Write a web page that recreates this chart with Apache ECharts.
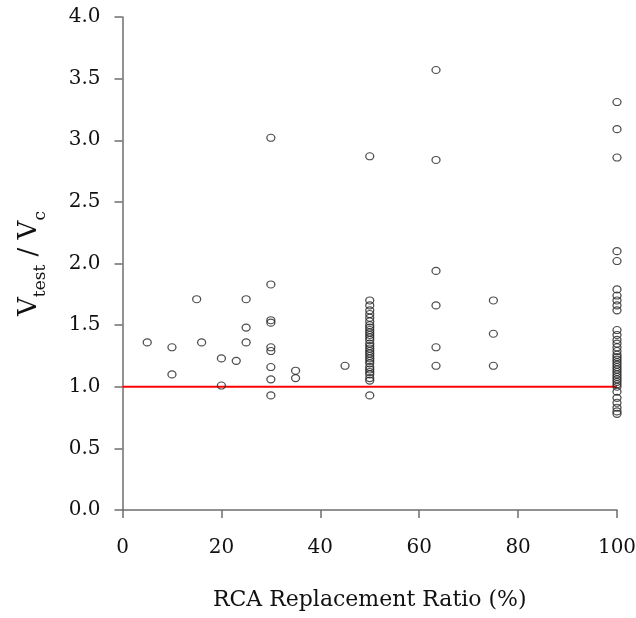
<!DOCTYPE html>
<html>
<head>
<meta charset="utf-8">
<script src="https://cdn.jsdelivr.net/npm/echarts@6/dist/echarts.min.js"></script>
<style>html,body{margin:0;padding:0;background:#fff}#c{width:636px;height:618px}</style>
</head>
<body>
<div id="c"></div>
<script>
// RCA replacement ratio (%) and Vtest/Vc values
const xTicks = [0, 20, 40, 60, 80, 100];
const yTicks = [0.0, 0.5, 1.0, 1.5, 2.0, 2.5, 3.0, 3.5, 4.0];

const ratio5  = [1.36];
const ratio10 = [1.32, 1.10];
const ratio15 = [1.71];
const ratio16 = [1.36];
const ratio20 = [1.23, 1.01];
const ratio23 = [1.21];
const ratio25 = [1.71, 1.48, 1.36];
const ratio30 = [3.02, 1.83, 1.54, 1.52, 1.32, 1.29, 1.16, 1.06, 0.93];
const ratio35 = [1.13, 1.07];
const ratio45 = [1.17];
const ratio50 = [2.87, 1.70, 1.66, 1.62, 1.59, 1.56, 1.53, 1.50, 1.48, 1.46, 1.44, 1.42, 1.40, 1.38,
                 1.35, 1.33, 1.31, 1.29, 1.27, 1.25, 1.23, 1.21, 1.19, 1.16, 1.14, 1.12, 1.10, 1.07, 1.05, 0.93];
const ratio63 = [3.57, 2.84, 1.94, 1.66, 1.32, 1.17];
const ratio75 = [1.70, 1.43, 1.17];
const ratio100 = [3.31, 3.09, 2.86, 2.10, 2.02, 1.79, 1.74, 1.70, 1.66, 1.62,
                  1.46, 1.42, 1.38, 1.35, 1.32, 1.29, 1.26, 1.24, 1.22, 1.20, 1.18, 1.16, 1.14, 1.12,
                  1.10, 1.08, 1.06, 1.04, 1.02, 1.00, 0.96, 0.91, 0.87, 0.83, 0.80, 0.78];

const groups = [
  [5, ratio5], [10, ratio10], [15, ratio15], [16, ratio16], [20, ratio20], [23, ratio23],
  [25, ratio25], [30, ratio30], [35, ratio35], [45, ratio45], [50, ratio50], [63.4, ratio63],
  [75, ratio75], [100, ratio100]
];
const refLine = [[0, 1.0], [100, 1.0]];

const points = [];
groups.forEach(([x, ys]) => ys.forEach(y => points.push([x, y])));

const font = "'DejaVu Serif', 'Liberation Serif', serif";
const axisColor = '#6e6e6e';

const chart = echarts.init(document.getElementById('c'), null, {renderer: 'canvas'});
chart.setOption({
  animation: false,
  backgroundColor: '#fff',
  grid: {left: 122.5, right: 19, top: 17, bottom: 108, containLabel: false, outerBoundsMode: 'none'},
  xAxis: {
    type: 'value', min: xTicks[0], max: xTicks[xTicks.length - 1], interval: 20,
    name: 'RCA Replacement Ratio (%)', nameLocation: 'middle', nameGap: 79,
    nameTextStyle: {fontFamily: font, fontSize: 22, color: '#111'},
    axisLine: {show: true, lineStyle: {color: axisColor, width: 1.5}},
    axisTick: {show: true, inside: false, length: 8, lineStyle: {color: axisColor, width: 1.5}},
    axisLabel: {fontFamily: font, fontSize: 20, color: '#111', margin: 28, hideOverlap: false},
    splitLine: {show: false}
  },
  yAxis: {
    type: 'value', min: yTicks[0], max: yTicks[yTicks.length - 1], interval: 0.5,
    name: '{a|V}{b|test}{a| / V}{b|c}', nameLocation: 'middle', nameGap: 80,
    nameTextStyle: {
      fontFamily: font, color: '#111',
      rich: {
        a: {fontFamily: font, fontSize: 26, color: '#111', verticalAlign: 'bottom'},
        b: {fontFamily: font, fontSize: 17, color: '#111', verticalAlign: 'bottom', padding: [0, 0, -7, 0]}
      }
    },
    axisLine: {show: true, lineStyle: {color: axisColor, width: 1.5}},
    axisTick: {show: true, inside: false, length: 8, lineStyle: {color: axisColor, width: 1.5}},
    axisLabel: {fontFamily: font, fontSize: 20, color: '#111', margin: 22,
      formatter: v => v.toFixed(1)},
    splitLine: {show: false}
  },
  series: [
    {
      type: 'line', data: refLine, symbol: 'none',
      lineStyle: {color: '#ff0000', width: 2}, z: 1, silent: true
    },
    {
      type: 'scatter', data: points, symbol: 'circle', symbolSize: [8, 7],
      itemStyle: {color: 'rgba(255,255,255,0)', borderColor: '#222', borderWidth: 1.2},
      z: 2
    }
  ]
});
</script>
</body>
</html>
